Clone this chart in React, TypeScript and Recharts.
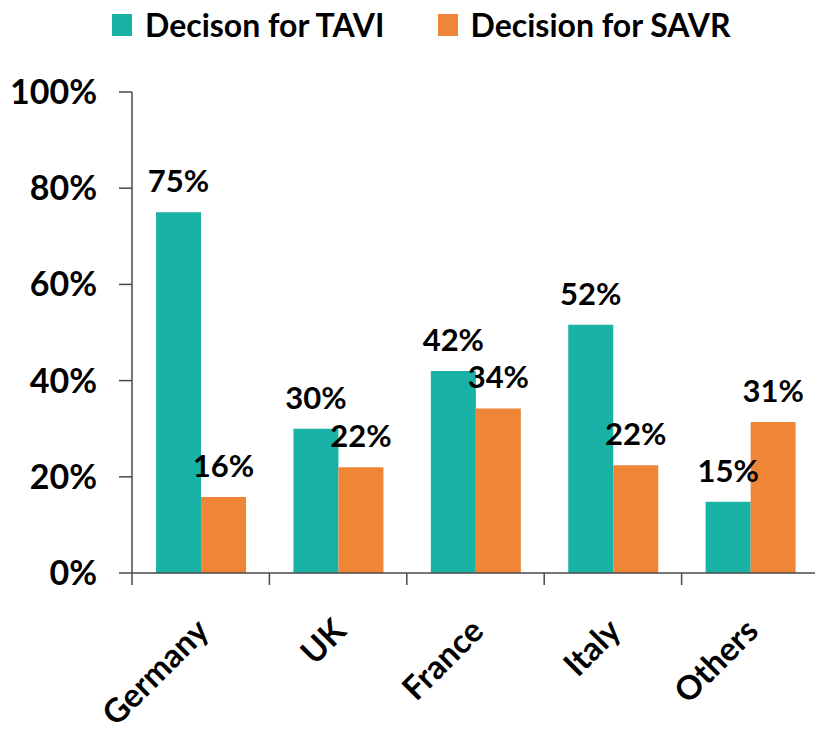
import React from 'react';
import { BarChart, Bar, XAxis, YAxis, Legend, LabelList } from 'recharts';

const categories = ['Germany', 'UK', 'France', 'Italy', 'Others'];
const taviValues = [75, 30, 42, 51.6, 14.8];
const savrValues = [15.8, 22, 34.2, 22.4, 31.4];
const yTicks = [0, 20, 40, 60, 80, 100];
const seriesNames = ['Decison for TAVI', 'Decision for SAVR'];
const seriesColors = ['#19B2A6', '#EE8537'];

const data = categories.map((c, i) => ({ name: c, tavi: taviValues[i], savr: savrValues[i] }));

const FONT = 'Lato, "Noto Sans", sans-serif';
const AXIS = '#4a4a4a';

function XTick(props: any) {
  const { x, y, payload } = props;
  const half = payload && typeof payload.offset === 'number' ? payload.offset : 0;
  return (
    <g>
      <line x1={x - half} y1={y} x2={x - half} y2={y + 12} stroke={AXIS} strokeWidth={1.5} />
      <g transform={`translate(${x + 10},${y + 60})`}>
        <text textAnchor="end" transform="rotate(-45)" fontFamily={FONT} fontWeight="bold" fontSize={33} fill="#000">
          {payload.value}
        </text>
      </g>
    </g>
  );
}

function LegendContent(props: any) {
  const raw = props.payload || [];
  const payload = [...raw].sort((a: any, b: any) => seriesNames.indexOf(a.value) - seriesNames.indexOf(b.value));
  return (
    <div style={{ height: 92, width: 815, position: 'relative', fontFamily: FONT }}>
      <div style={{ display: 'flex', paddingLeft: 112, paddingTop: 9, gap: 53, alignItems: 'center' }}>
        {payload.map((p: any, i: number) => (
          <div key={i} style={{ display: 'flex', alignItems: 'center' }}>
            <div style={{ width: 20, height: 22, background: p.color, marginRight: 13 }} />
            <span style={{ fontSize: 32, fontWeight: 'bold', color: '#000', lineHeight: '32px' }}>{p.value}</span>
          </div>
        ))}
      </div>
    </div>
  );
}

export default function App() {
  return (
    <div style={{ position: 'absolute', left: 0, top: 0, width: 815, height: 733, overflow: 'hidden', background: '#fff' }}>
      <BarChart
        width={820}
        height={733}
        data={data}
        margin={{ top: 0, right: 1, left: 0, bottom: 0 }}
        barCategoryGap="17.5%"
        barGap={0}
      >
        <Legend verticalAlign="top" align="left" content={<LegendContent />} wrapperStyle={{ left: 0, top: 0, width: 815 }} />
        <XAxis
          dataKey="name"
          height={160}
          tickSize={0}
          tickMargin={0}
          tickLine={false}
          axisLine={{ stroke: AXIS, strokeWidth: 1.5 }}
          tick={<XTick />}
          interval={0}
        />
        <YAxis
          width={132}
          domain={[0, 100]}
          ticks={yTicks}
          tickFormatter={(v: number) => `${v}%`}
          tickSize={13}
          tickMargin={22}
          axisLine={{ stroke: AXIS, strokeWidth: 1.5 }}
          tickLine={{ stroke: AXIS, strokeWidth: 1.5 }}
          tick={{ fontFamily: FONT, fontWeight: 'bold', fontSize: 34, fill: '#000' }}
          interval={0}
        />
        <Bar dataKey="tavi" name={seriesNames[0]} fill={seriesColors[0]} isAnimationActive={false}>
          <LabelList dataKey="tavi" position="top" offset={20} formatter={(v: any) => `${Math.round(Number(v))}%`} style={{ fontFamily: FONT, fontWeight: 'bold', fontSize: 31, fill: '#000' }} />
        </Bar>
        <Bar dataKey="savr" name={seriesNames[1]} fill={seriesColors[1]} isAnimationActive={false}>
          <LabelList dataKey="savr" position="top" offset={20} formatter={(v: any) => `${Math.round(Number(v))}%`} style={{ fontFamily: FONT, fontWeight: 'bold', fontSize: 31, fill: '#000' }} />
        </Bar>
      </BarChart>
    </div>
  );
}
